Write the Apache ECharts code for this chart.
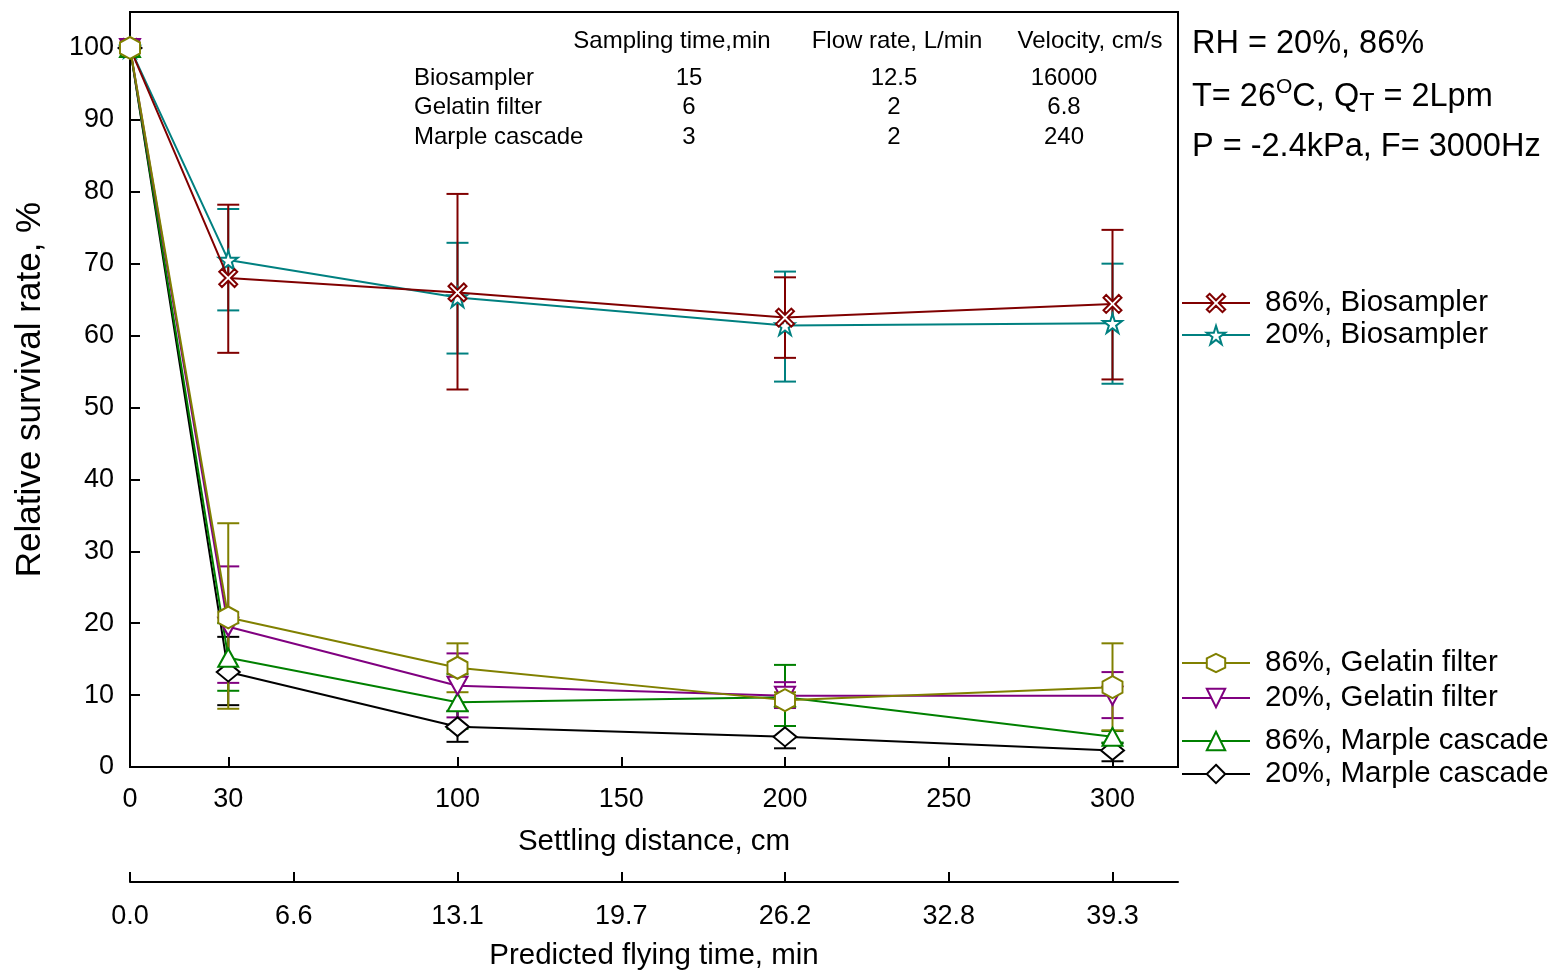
<!DOCTYPE html>
<html>
<head>
<meta charset="utf-8">
<script src="https://cdn.jsdelivr.net/npm/echarts@6/dist/echarts.min.js"></script>
<style>
html,body{margin:0;padding:0;background:#fff;}
#chart{width:1554px;height:971px;}
</style>
</head>
<body>
<div id="chart"></div>
<script>
// ---------- data ----------
const xDist = [0, 30, 100, 200, 300];

const bio86   = [100, 68.0, 66.0, 62.5, 64.4];
const bio86Lo = [100, 57.6, 52.5, 56.9, 53.9];
const bio86Hi = [100, 78.2, 79.7, 68.1, 74.7];

const bio20   = [100, 70.5, 65.3, 61.4, 61.7];
const bio20Lo = [100, 63.5, 57.5, 53.6, 53.3];
const bio20Hi = [100, 77.6, 72.9, 68.9, 70.0];

const gel86   = [100, 20.8, 13.8, 9.3, 11.1];
const gel86Lo = [100, 8.1, 10.4, 8.4, 5.1];
const gel86Hi = [100, 33.9, 17.2, 10.4, 17.2];

const gel20   = [100, 19.5, 11.3, 9.9, 9.9];
const gel20Lo = [100, 11.7, 6.9, 8.2, 6.8];
const gel20Hi = [100, 27.9, 15.8, 11.8, 13.2];

const mar86   = [100, 15.2, 9.0, 9.7, 4.2];
const mar86Lo = [100, 10.6, 5.3, 5.7, 3.4];
const mar86Hi = [100, 20.0, 12.9, 14.2, 5.0];

const mar20   = [100, 13.2, 5.6, 4.2, 2.3];
const mar20Lo = [100, 8.6, 3.5, 2.6, 0.8];
const mar20Hi = [100, 18.1, 7.8, 5.7, 3.3];

const distTicks = [0, 30, 100, 150, 200, 250, 300];
const timeTickDist = [0, 50, 100, 150, 200, 250, 300];
const timeLabels = ['0.0', '6.6', '13.1', '19.7', '26.2', '32.8', '39.3'];

const tableHeader = ['Sampling time,min', 'Flow rate, L/min', 'Velocity, cm/s'];
const tableRows = ['Biosampler', 'Gelatin filter', 'Marple cascade'];
const tableSampling = ['15', '6', '3'];
const tableFlow = ['12.5', '2', '2'];
const tableVelocity = ['16000', '6.8', '240'];

// ---------- styles ----------
const FONT = 'Liberation Sans, Arial, sans-serif';
const SYM = {
  x: 'path://M-0.7,-1 L0,-0.3 L0.7,-1 L1,-0.7 L0.3,0 L1,0.7 L0.7,1 L0,0.3 L-0.7,1 L-1,0.7 L-0.3,0 L-1,-0.7 Z',
  star: 'path://M0,-1 L0.2245,-0.309 L0.951,-0.309 L0.363,0.118 L0.588,0.809 L0,0.382 L-0.588,0.809 L-0.363,0.118 L-0.951,-0.309 L-0.2245,-0.309 Z',
  hex: 'path://M0,-1 L0.866,-0.5 L0.866,0.5 L0,1 L-0.866,0.5 L-0.866,-0.5 Z',
  tdown: 'path://M-1,-0.8 L1,-0.8 L0,1 Z',
  tup: 'path://M0,-1 L1,0.8 L-1,0.8 Z',
  dia: 'path://M0,-1 L1,0 L0,1 L-1,0 Z'
};

const defs = [
  {name: '20%, Biosampler', y: bio20, lo: bio20Lo, hi: bio20Hi, color: '#008080', sym: SYM.star, size: [19, 19]},
  {name: '86%, Biosampler', y: bio86, lo: bio86Lo, hi: bio86Hi, color: '#800000', sym: SYM.x, size: [18, 18]},
  {name: '20%, Marple cascade', y: mar20, lo: mar20Lo, hi: mar20Hi, color: '#000000', sym: SYM.dia, size: [23, 19]},
  {name: '86%, Marple cascade', y: mar86, lo: mar86Lo, hi: mar86Hi, color: '#008000', sym: SYM.tup, size: [20, 18]},
  {name: '20%, Gelatin filter', y: gel20, lo: gel20Lo, hi: gel20Hi, color: '#800080', sym: SYM.tdown, size: [20, 18]},
  {name: '86%, Gelatin filter', y: gel86, lo: gel86Lo, hi: gel86Hi, color: '#808000', sym: SYM.hex, size: [20, 22]}
];

const series = [];
defs.forEach((d, i) => {
  const errData = [];
  xDist.forEach((x, k) => { if (d.hi[k] !== d.lo[k]) errData.push([x, d.lo[k], d.hi[k]]); });
  series.push({
    type: 'custom',
    name: d.name + ' err',
    xAxisIndex: 0, yAxisIndex: 0,
    z: 2 + i * 0.1,
    silent: true,
    data: errData,
    encode: {x: 0, y: [1, 2]},
    renderItem: function (params, api) {
      const x = api.value(0);
      const p1 = api.coord([x, api.value(1)]);
      const p2 = api.coord([x, api.value(2)]);
      const hw = 11;
      const st = {stroke: d.color, lineWidth: 2};
      return {
        type: 'group',
        children: [
          {type: 'line', shape: {x1: p1[0], y1: p1[1], x2: p2[0], y2: p2[1]}, style: st},
          {type: 'line', shape: {x1: p1[0] - hw, y1: p1[1], x2: p1[0] + hw, y2: p1[1]}, style: st},
          {type: 'line', shape: {x1: p2[0] - hw, y1: p2[1], x2: p2[0] + hw, y2: p2[1]}, style: st}
        ]
      };
    }
  });
  series.push({
    type: 'line',
    name: d.name,
    xAxisIndex: 0, yAxisIndex: 0,
    z: 3 + i * 0.1,
    data: xDist.map((x, k) => [x, d.y[k]]),
    symbol: d.sym,
    symbolSize: d.size,
    showAllSymbol: true,
    color: d.color,
    lineStyle: {color: d.color, width: 2},
    itemStyle: {color: '#ffffff', borderColor: d.color, borderWidth: 2},
    emphasis: {disabled: true},
    animation: false
  });
});

// legends
const legendPos = [
  {name: '86%, Biosampler', top: 300},
  {name: '20%, Biosampler', top: 332},
  {name: '86%, Gelatin filter', top: 660},
  {name: '20%, Gelatin filter', top: 695},
  {name: '86%, Marple cascade', top: 738},
  {name: '20%, Marple cascade', top: 771}
];
const legends = legendPos.map(l => ({
  data: [l.name],
  left: 1181,
  top: l.top - 12,
  orient: 'vertical',
  itemWidth: 68,
  itemHeight: 23,
  padding: 0,
  selectedMode: false,
  textStyle: {fontSize: 29.5, fontFamily: FONT, color: '#000', padding: [0, 0, 0, 10]}
}));

// graphics: table + conditions
const graphics = [];
const headerX = [672, 897, 1090];
const TF = '24px ' + FONT;
tableHeader.forEach((t, i) => graphics.push({
  type: 'text', x: headerX[i], y: 41,
  style: {text: t, font: TF, fill: '#000', textAlign: 'center', textVerticalAlign: 'middle', align: 'center', verticalAlign: 'middle'}
}));
const rowY = [78, 107, 137];
const colX = [689, 894, 1064];
tableRows.forEach((r, i) => {
  graphics.push({type: 'text', x: 414, y: rowY[i],
    style: {text: r, font: TF, fill: '#000', textAlign: 'left', textVerticalAlign: 'middle', align: 'left', verticalAlign: 'middle'}});
  [tableSampling[i], tableFlow[i], tableVelocity[i]].forEach((v, j) => graphics.push({
    type: 'text', x: colX[j], y: rowY[i],
    style: {text: v, font: TF, fill: '#000', textAlign: 'center', textVerticalAlign: 'middle', align: 'center', verticalAlign: 'middle'}
  }));
});
const CF = '32.5px ' + FONT;
graphics.push({type: 'text', x: 1192, y: 44,
  style: {text: 'RH = 20%, 86%', font: CF, fill: '#000', textAlign: 'left', textVerticalAlign: 'middle', align: 'left', verticalAlign: 'middle'}});
graphics.push({type: 'text', x: 1192, y: 97,
  style: {text: 'T= 26{sup|O}C, Q{sub|T} = 2Lpm', font: CF, fontSize: 32.5, fontFamily: FONT, lineHeight: 40, fill: '#000',
    textAlign: 'left', textVerticalAlign: 'middle', align: 'left', verticalAlign: 'middle',
    rich: {
      sup: {fontSize: 21, fontFamily: FONT, lineHeight: 14, verticalAlign: 'top', fill: '#000'},
      sub: {fontSize: 25, fontFamily: FONT, lineHeight: 10, verticalAlign: 'bottom', fill: '#000'}
    }}});
graphics.push({type: 'text', x: 1192, y: 147,
  style: {text: 'P = -2.4kPa, F= 3000Hz', font: CF, fill: '#000', textAlign: 'left', textVerticalAlign: 'middle', align: 'left', verticalAlign: 'middle'}});

const option = {
  backgroundColor: '#fff',
  animation: false,
  grid: {left: 130, top: 12, width: 1048, height: 755, show: true, borderColor: '#000', borderWidth: 2,
    backgroundColor: 'transparent', containLabel: false, outerBoundsMode: 'none'},
  xAxis: [
    {
      type: 'value', min: 0, max: 320, position: 'bottom',
      name: 'Settling distance, cm', nameLocation: 'middle', nameGap: 60,
      nameTextStyle: {fontSize: 29.5, fontFamily: FONT, color: '#000'},
      axisLine: {show: true, lineStyle: {color: '#000', width: 2}},
      axisTick: {show: true, inside: true, length: 10, lineStyle: {color: '#000', width: 2}, customValues: distTicks},
      axisLabel: {fontSize: 27, fontFamily: FONT, color: '#000', margin: 19, customValues: distTicks},
      splitLine: {show: false}
    },
    {
      type: 'value', min: 0, max: 320, position: 'bottom', offset: 115,
      name: 'Predicted flying time, min', nameLocation: 'middle', nameGap: 59,
      nameTextStyle: {fontSize: 29.5, fontFamily: FONT, color: '#000'},
      axisLine: {show: true, onZero: false, lineStyle: {color: '#000', width: 2}},
      axisTick: {show: true, inside: true, length: 10, lineStyle: {color: '#000', width: 2}, customValues: timeTickDist},
      axisLabel: {fontSize: 27, fontFamily: FONT, color: '#000', margin: 21, customValues: timeTickDist,
        formatter: v => { const k = timeTickDist.indexOf(v); return k >= 0 ? timeLabels[k] : ''; }},
      splitLine: {show: false}
    }
  ],
  yAxis: {
    type: 'value', min: 0, max: 105, interval: 10,
    name: 'Relative survival rate, %', nameLocation: 'middle', nameGap: 82,
    nameTextStyle: {fontSize: 35, fontFamily: FONT, color: '#000'},
    axisLine: {show: true, lineStyle: {color: '#000', width: 2}},
    axisTick: {show: true, inside: true, length: 10, lineStyle: {color: '#000', width: 2}},
    axisLabel: {fontSize: 27, fontFamily: FONT, color: '#000', margin: 16, showMaxLabel: false,
      formatter: v => (v % 10 === 0 ? String(v) : '')},
    splitLine: {show: false}
  },
  legend: legends,
  graphic: graphics,
  series: series
};

const chart = echarts.init(document.getElementById('chart'), null, {renderer: 'canvas'});
chart.setOption(option);
</script>
</body>
</html>
